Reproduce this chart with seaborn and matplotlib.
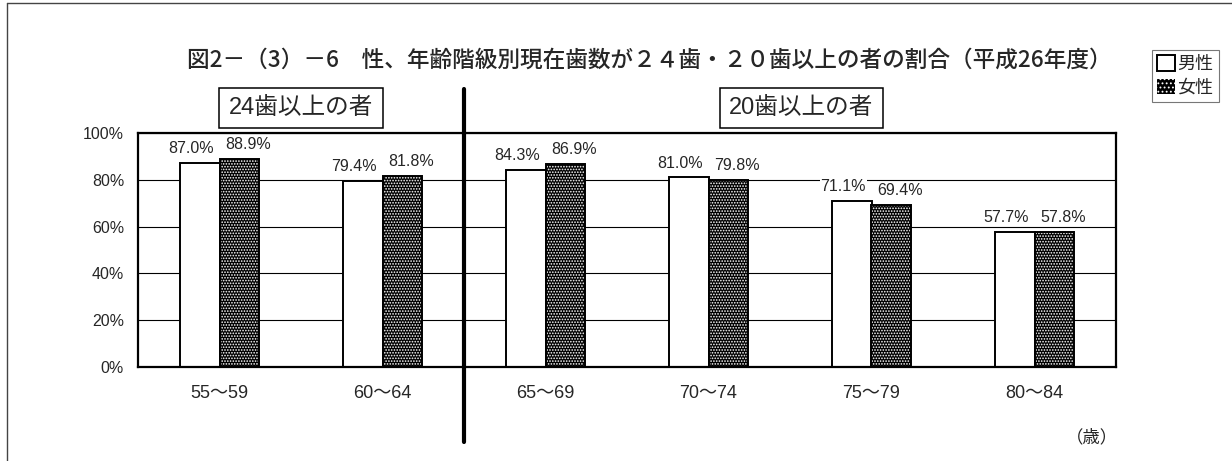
import pandas as pd
import matplotlib
matplotlib.use('Agg')
import matplotlib.pyplot as plt
from matplotlib.patches import Patch, Rectangle
from matplotlib.lines import Line2D
import seaborn as sns

# data
ages = ['55～59', '60～64', '65～69', '70～74', '75～79', '80～84']
male = [87.0, 79.4, 84.3, 81.0, 71.1, 57.7]
female = [88.9, 81.8, 86.9, 79.8, 69.4, 57.8]
sexes = ['男性', '女性']
yticks = [0, 20, 40, 60, 80, 100]

title = '図2－（3）－6　性、年齢階級別現在歯数が２４歯・２０歯以上の者の割合（平成26年度）'
group_labels = ['24歯以上の者', '20歯以上の者']
unit = '（歳）'

df = pd.DataFrame({
    'age': ages * 2,
    'pct': male + female,
    'sex': [sexes[0]] * len(ages) + [sexes[1]] * len(ages),
})

sns.set_style('white')
plt.rcParams['font.family'] = ['Liberation Sans', 'Noto Sans CJK JP', 'DejaVu Sans']
plt.rcParams['hatch.linewidth'] = 0.8

W, H = 1232, 461
fig = plt.figure(figsize=(W / 100, H / 100), dpi=100)
ax = fig.add_axes([138 / W, 1 - 367 / H, (1116 - 138) / W, 234 / H])

sns.barplot(data=df, x='age', y='pct', hue='sex', order=ages, hue_order=sexes,
            palette={'男性': 'white', '女性': 'black'}, edgecolor='black',
            linewidth=1.4, width=0.49, legend=False, ax=ax, zorder=2)

# dotted fill for the female bars: white hatch on black, then a black outline
for bar in ax.containers[1]:
    bar.set_edgecolor('white')
    bar.set_linewidth(0)
    bar.set_hatch('......')
    ax.add_patch(Rectangle((bar.get_x(), 0), bar.get_width(), bar.get_height(),
                           fill=False, edgecolor='black', linewidth=1.4, zorder=3))

# value labels
for cont, dx in zip(ax.containers, [-6, 6]):
    for bar in cont:
        v = bar.get_height()
        ax.annotate(f'{v:.1f}%', (bar.get_x() + bar.get_width() / 2, v),
                    xytext=(dx, 5), textcoords='offset points',
                    ha='center', va='bottom', fontsize=11.5, zorder=5,
                    bbox=dict(boxstyle='square,pad=0.05', fc='white', ec='none'))

ax.set_xlim(-0.5, len(ages) - 0.5)
ax.set_ylim(0, 100)
ax.set_yticks(yticks)
ax.set_yticklabels([f'{t}%' for t in yticks], fontsize=11.5)
ax.set_xlabel('')
ax.set_ylabel('')
ax.yaxis.grid(True, color='black', linewidth=0.8)
ax.set_axisbelow(True)
for s in ax.spines.values():
    s.set_color('black')
    s.set_linewidth(1.6)

ax.tick_params(axis='y', length=0, pad=10)
ax.tick_params(axis='x', which='major', length=0, pad=13, labelsize=13)
ax.set_xticks([i + 0.5 for i in range(len(ages) - 1)], minor=True)
ax.tick_params(axis='x', which='minor', direction='in', length=5, width=1, color='black')

# thick separator between the two groups
ax.axvline(1.5, ymin=-0.32, ymax=1.19, color='black', linewidth=3, clip_on=False, zorder=6)

# group boxes
for x, lab in zip([0.5, 3.57], group_labels):
    ax.text(x, 1.107, lab, transform=ax.get_xaxis_transform(), ha='center', va='center',
            fontsize=17, bbox=dict(boxstyle='square,pad=0.4', fc='white', ec='black', lw=1.1))

fig.text(649 / W, 1 - 60 / H, title, ha='center', va='center', fontsize=16.3,
         family=['Noto Sans CJK JP', 'DejaVu Sans'], weight='medium')
fig.text(1092 / W, 1 - 437 / H, unit, ha='center', va='center', fontsize=12.5)

handles = [Patch(facecolor='white', edgecolor='black', linewidth=1.4),
           Patch(facecolor='black', edgecolor='white', hatch='....', linewidth=0)]
leg = fig.legend(handles, sexes, loc='upper left', bbox_to_anchor=(1152 / W, 1 - 50 / H),
                 fontsize=13, frameon=True, fancybox=False, edgecolor='#555555',
                 handlelength=0.95, handleheight=0.95, handletextpad=0.15,
                 borderpad=0.3, labelspacing=0.3, borderaxespad=0)
leg.get_frame().set_linewidth(0.8)

# outer frame of the figure (only left and top visible)
fig.add_artist(Line2D([7 / W, 7 / W], [0, 1 - 3 / H], transform=fig.transFigure,
                      color='#444444', linewidth=1))
fig.add_artist(Line2D([7 / W, 1], [1 - 3 / H, 1 - 3 / H], transform=fig.transFigure,
                      color='#444444', linewidth=1))

fig.savefig('out.png', dpi=100)
